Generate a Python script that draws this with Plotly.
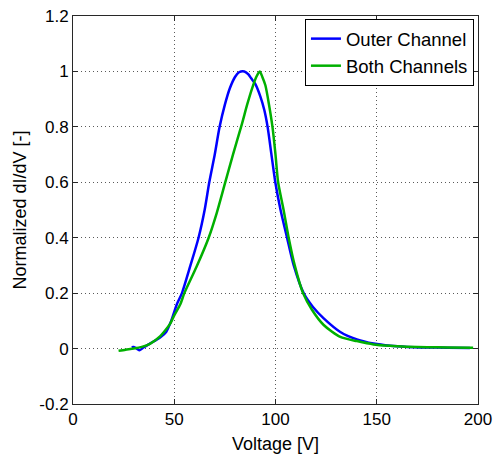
import plotly.graph_objects as go

# Outer channel: voltage [V] and normalized dI/dV
outer_v = [29, 30, 31.5, 32.9, 35, 38, 43, 46, 48.5, 51.3, 53.8, 58, 62, 65, 67.3, 70, 72.4, 75,
           77.5, 80, 82, 84.6, 86.5, 88, 90, 92.5, 94.5, 96.1, 98, 99.9, 102.5, 105.7, 109, 113.9,
           118.5, 123.8, 132, 140.2, 148.4, 156.7, 165, 175, 185, 196]
outer_y = [0.005, 0.006, 0.0, -0.006, 0.005, 0.018, 0.04, 0.06, 0.1, 0.16, 0.2, 0.3, 0.4, 0.5, 0.6, 0.7,
           0.8, 0.88, 0.94, 0.98, 0.997, 1.0, 0.99, 0.975, 0.955, 0.91, 0.86, 0.8, 0.7, 0.6, 0.5, 0.4,
           0.3, 0.2, 0.15, 0.109, 0.06, 0.033, 0.018, 0.01, 0.006, 0.004, 0.003, 0.002]

# Both channels: voltage [V] and normalized dI/dV
both_v = [22.5, 26, 30, 34, 38.2, 43.1, 45.6, 48, 50, 53, 55, 61, 67, 71, 75, 79, 83.4, 86, 88.5,
          90.5, 92.2, 93.5, 95, 96.8, 98.5, 100, 101.3, 104, 106.5, 109.5, 113.6, 118, 123.8, 132,
          140.2, 148.4, 156.5, 164.9, 175, 185, 197.6]
both_y = [-0.008, -0.004, 0.0, 0.006, 0.018, 0.045, 0.066, 0.09, 0.12, 0.16, 0.2, 0.295, 0.4, 0.49, 0.595,
          0.7, 0.81, 0.88, 0.94, 0.98, 1.0, 0.98, 0.95, 0.88, 0.8, 0.7, 0.6, 0.5, 0.4, 0.3, 0.2, 0.14,
          0.085, 0.042, 0.027, 0.015, 0.01, 0.007, 0.005, 0.004, 0.003]

x_ticks = [0, 50, 100, 150, 200]
y_ticks = [-0.2, 0, 0.2, 0.4, 0.6, 0.8, 1, 1.2]
y_tick_text = ["-0.2", "0", "0.2", "0.4", "0.6", "0.8", "1", "1.2"]

FONT = "Liberation Sans, Arial, Helvetica, sans-serif"

fig = go.Figure()
fig.add_trace(go.Scatter(x=outer_v, y=outer_y, mode="lines", name="Outer Channel",
                         line=dict(color="rgb(0,0,255)", width=2.5, shape="spline", smoothing=0.7)))
fig.add_trace(go.Scatter(x=both_v, y=both_y, mode="lines", name="Both Channels",
                         line=dict(color="rgb(0,176,0)", width=2.5, shape="spline", smoothing=0.7)))

axis_common = dict(
    showline=True, linecolor="rgb(40,40,40)", linewidth=1, mirror="ticks",
    ticks="inside", ticklen=5, tickcolor="rgb(40,40,40)",
    showgrid=True, gridcolor="rgb(90,90,90)", griddash="1px,3px", gridwidth=1,
    zeroline=False, automargin=False,
    tickfont=dict(family=FONT, size=17, color="black"),
)

fig.update_xaxes(range=[0, 200], tickvals=x_ticks,
                 title=dict(text="Voltage [V]", font=dict(family=FONT, size=18, color="black"), standoff=8),
                 **axis_common)
fig.update_yaxes(range=[-0.2, 1.2], tickvals=y_ticks, ticktext=y_tick_text,
                 title=dict(text="Normalized dI/dV [-]", font=dict(family=FONT, size=18, color="black"), standoff=8),
                 **axis_common)

fig.update_layout(
    width=496, height=457,
    margin=dict(l=73, r=18, t=16, b=53),
    paper_bgcolor="white", plot_bgcolor="white",
    showlegend=True,
    legend=dict(x=0.99, y=0.992, xanchor="right", yanchor="top",
                bgcolor="white", bordercolor="black", borderwidth=1,
                font=dict(family=FONT, size=18.5, color="black"),
                itemwidth=30, tracegroupgap=0),
    font=dict(family=FONT),
)

fig.write_html("out.html")
